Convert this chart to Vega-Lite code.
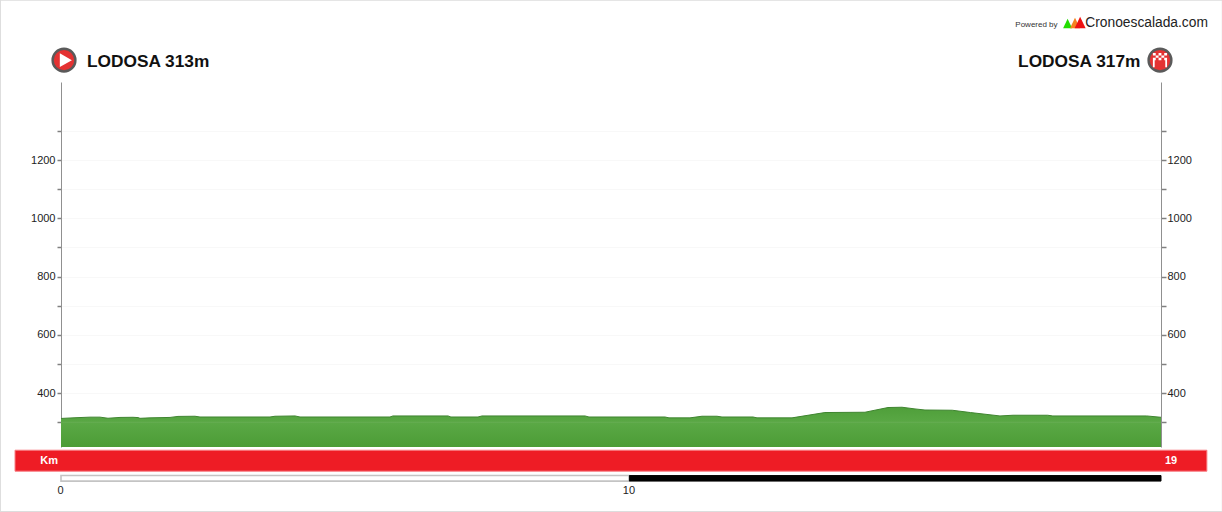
{
"$schema":"https://vega.github.io/schema/vega-lite/v6.json",
"width":1100,"height":365,"autosize":"none",
"padding":{"left":61,"top":82,"right":61,"bottom":65},
"background":"white",
"config":{"view":{"stroke":null},"font":"Liberation Sans"},
"resolve":{"axis":{"y":"independent","x":"independent"},"scale":{"color":"independent"}},
"layer":[
{"data":{"values":[{"km":-1.074,"km2":20.44,"elev":1750,"elev2":-8}]},
 "mark":{"type":"rect","fill":null,"stroke":"#dddddd","strokeWidth":2},
 "encoding":{"x":{"field":"km","type":"quantitative","scale":{"domain":[0,19.353],"nice":false,"zero":false},"axis":{"values":[0,10],"title":null,"domain":false,"ticks":false,"grid":false,"labelPadding":37,"labelFontSize":11,"labelColor":"#222222","labelOffset":-1,"format":"d","labelFlush":false}},"x2":{"field":"km2"},
  "y":{"field":"elev","type":"quantitative","scale":{"domain":[215,1468],"nice":false,"zero":false},"axis":{"orient":"left","values":[300,400,500,600,700,800,900,1000,1100,1200,1300],"title":null,"domainColor":"#909090","tickColor":"#808080","tickSize":4,"tickWidth":1.5,"labelPadding":2,"labelFontSize":11,"labelColor":"#222222","format":"d","labelExpr":"(datum.value%200==0&&datum.value>=400&&datum.value<=1200)?datum.label:''","grid":true,"gridColor":"#f8f8f8","gridWidth":1}},"y2":{"field":"elev2"}}},
{"data":{"values":[{"km":0,"elev":300}]},
 "mark":{"type":"rule","opacity":0},
 "encoding":{"y":{"field":"elev","type":"quantitative","axis":{"orient":"right","values":[300,400,500,600,700,800,900,1000,1100,1200,1300],"title":null,"domainColor":"#909090","tickColor":"#808080","tickSize":5,"tickWidth":1.5,"labelPadding":1,"labelFontSize":11,"labelColor":"#222222","format":"d","grid":false,"labelExpr":"(datum.value%200==0&&datum.value>=400&&datum.value<=1200)?datum.label:''"}}}},
{"data":{"name":"profile","values":[
{"km":0,"elev":313},{"km":0.246,"elev":315.4},{"km":0.51,"elev":317.5},{"km":0.686,"elev":317.5},{"km":0.827,"elev":313.7},{"km":1.038,"elev":316.5},{"km":1.267,"elev":317},{"km":1.355,"elev":316},{"km":1.39,"elev":313.5},{"km":1.566,"elev":315},{"km":1.918,"elev":316.5},{"km":2.058,"elev":320},{"km":2.357,"elev":320.6},{"km":2.445,"elev":318},{"km":3.677,"elev":318},{"km":3.765,"elev":320.6},{"km":4.117,"elev":321.6},{"km":4.205,"elev":318},{"km":5.788,"elev":318},{"km":5.84,"elev":321.6},{"km":6.81,"elev":321.6},{"km":6.86,"elev":318},{"km":7.336,"elev":318},{"km":7.407,"elev":321.6},{"km":9.219,"elev":321.6},{"km":9.289,"elev":318},{"km":10.626,"elev":318},{"km":10.697,"elev":315},{"km":11.066,"elev":315},{"km":11.277,"elev":320.6},{"km":11.541,"elev":320.6},{"km":11.629,"elev":318},{"km":12.175,"elev":318},{"km":12.245,"elev":315},{"km":12.861,"elev":315},{"km":13.44,"elev":333.3},{"km":14.145,"elev":334.3},{"km":14.55,"elev":350.5},{"km":14.796,"elev":351.5},{"km":15.025,"elev":345.7},{"km":15.2,"elev":342},{"km":15.68,"elev":341.2},{"km":16,"elev":333.3},{"km":16.52,"elev":321.6},{"km":16.75,"elev":324},{"km":17.36,"elev":324},{"km":17.45,"elev":321.6},{"km":19.1,"elev":321.6},{"km":19.353,"elev":317}]},
 "layer":[
 {"mark":{"type":"area","color":{"gradient":"linear","x1":0,"y1":0,"x2":0,"y2":1,"stops":[{"offset":0,"color":"#4f9f3a"},{"offset":0.4,"color":"#5aa845"},{"offset":1,"color":"#4c9c36"}]}},
  "encoding":{"x":{"field":"km","type":"quantitative","axis":null},"y":{"field":"elev","type":"quantitative","axis":null},"y2":{"datum":215}}},
 {"mark":{"type":"line","color":"#3f8530","strokeWidth":1},
  "encoding":{"x":{"field":"km","type":"quantitative","axis":null},"y":{"field":"elev","type":"quantitative","axis":null}}}
 ]},
{"data":{"values":[{"elev":300}]},
 "mark":{"type":"rule","color":"white","opacity":0.08},
 "encoding":{"y":{"field":"elev","type":"quantitative","axis":null}}},
{"data":{"values":[{"km":-0.809,"km2":20.16,"elev":204,"elev2":132}]},
 "mark":{"type":"rect","fill":"#ee1c25","stroke":"#f87c82","strokeWidth":1},
 "encoding":{"x":{"field":"km","type":"quantitative","axis":null},"x2":{"field":"km2"},"y":{"field":"elev","type":"quantitative","axis":null},"y2":{"field":"elev2"}}},
{"data":{"values":[{"km":0,"km2":10,"elev":117,"elev2":98}]},
 "mark":{"type":"rect","fill":"#ffffff","stroke":"#c4c4c4","strokeWidth":1.6},
 "encoding":{"x":{"field":"km","type":"quantitative","axis":null},"x2":{"field":"km2"},"y":{"field":"elev","type":"quantitative","axis":null},"y2":{"field":"elev2"}}},
{"data":{"values":[{"km":10,"km2":19.353,"elev":117,"elev2":98}]},
 "mark":{"type":"rect","fill":"#000000","stroke":"#000000","strokeWidth":1},
 "encoding":{"x":{"field":"km","type":"quantitative","axis":null},"x2":{"field":"km2"},"y":{"field":"elev","type":"quantitative","axis":null},"y2":{"field":"elev2"}}},
{"data":{"values":[{"km":-0.21,"elev":168,"label":"Km"},{"km":19.53,"elev":168,"label":"19"}]},
 "mark":{"type":"text","color":"white","fontWeight":"bold","fontSize":11,"align":"center","baseline":"middle"},
 "encoding":{"x":{"field":"km","type":"quantitative","axis":null},"y":{"field":"elev","type":"quantitative","axis":null},"text":{"field":"label"}}},
{"data":{"values":[{"km":0.053,"elev":1543,"who":"start"},{"km":19.335,"elev":1543,"who":"end"}]},
 "mark":{"type":"point","filled":true,"fill":"#e43232","stroke":"#5a5a5a","strokeWidth":2.4,"opacity":1,"size":520},
 "encoding":{"x":{"field":"km","type":"quantitative","axis":null},"y":{"field":"elev","type":"quantitative","axis":null}}},
{"data":{"values":[{"km":0.07,"elev":1543}]},
 "mark":{"type":"point","filled":true,"fill":"white","opacity":1,"shape":"M-0.75,-1L1,0L-0.75,1Z","size":190},
 "encoding":{"x":{"field":"km","type":"quantitative","axis":null},"y":{"field":"elev","type":"quantitative","axis":null}}},
{"data":{"values":[{"km":19.335,"elev":1543}]},
 "mark":{"type":"point","filled":true,"fill":"white","opacity":1,"shape":"M-1,-1H-0.6V-0.67H-1ZM-0.2,-1H0.2V-0.67H-0.2ZM0.6,-1H1V-0.67H0.6ZM-0.6,-0.67H-0.2V-0.33H-0.6ZM0.2,-0.67H0.6V-0.33H0.2ZM-1,-0.33H-0.6V0H-1ZM-0.2,-0.33H0.2V0H-0.2ZM0.6,-0.33H1V0H0.6ZM-1,0H-0.75V1H-1ZM0.75,0H1V1H0.75Z","size":200},
 "encoding":{"x":{"field":"km","type":"quantitative","axis":null},"y":{"field":"elev","type":"quantitative","axis":null}}},
{"data":{"values":[{"km":0.457,"elev":1521,"label":"LODOSA 313m"}]},
 "mark":{"type":"text","color":"#111111","fontWeight":"bold","fontSize":17.3,"align":"left","baseline":"alphabetic"},
 "encoding":{"x":{"field":"km","type":"quantitative","axis":null},"y":{"field":"elev","type":"quantitative","axis":null},"text":{"field":"label"}}},
{"data":{"values":[{"km":18.99,"elev":1521,"label":"LODOSA 317m"}]},
 "mark":{"type":"text","color":"#111111","fontWeight":"bold","fontSize":17.3,"align":"right","baseline":"alphabetic"},
 "encoding":{"x":{"field":"km","type":"quantitative","axis":null},"y":{"field":"elev","type":"quantitative","axis":null},"text":{"field":"label"}}},
{"data":{"values":[{"km":16.79,"elev":1657,"label":"Powered by"}]},
 "mark":{"type":"text","color":"#333333","fontSize":8,"align":"left","baseline":"alphabetic"},
 "encoding":{"x":{"field":"km","type":"quantitative","axis":null},"y":{"field":"elev","type":"quantitative","axis":null},"text":{"field":"label"}}},
{"data":{"values":[{"km":18.02,"elev":1656,"label":"Cronoescalada.com"}]},
 "mark":{"type":"text","color":"#222222","fontSize":13.8,"align":"left","baseline":"alphabetic"},
 "encoding":{"x":{"field":"km","type":"quantitative","axis":null},"y":{"field":"elev","type":"quantitative","axis":null},"text":{"field":"label"}}},
{"data":{"values":[{"km":17.71,"elev":1668}]},
 "mark":{"type":"point","filled":true,"opacity":1,"fill":"#22dd00","shape":"M0,-1.1L-1,1L1,1Z","size":81},
 "encoding":{"x":{"field":"km","type":"quantitative","axis":null},"y":{"field":"elev","type":"quantitative","axis":null}}},
{"data":{"values":[{"km":17.84,"elev":1670}]},
 "mark":{"type":"point","filled":true,"opacity":1,"fill":"#f58220","shape":"M0,-1.1L-1,1L1,1Z","size":100},
 "encoding":{"x":{"field":"km","type":"quantitative","axis":null},"y":{"field":"elev","type":"quantitative","axis":null}}},
{"data":{"values":[{"km":17.93,"elev":1671.5}]},
 "mark":{"type":"point","filled":true,"opacity":1,"fill":"#ee1111","shape":"M0,-1.1L-1,1L1,1Z","size":121},
 "encoding":{"x":{"field":"km","type":"quantitative","axis":null},"y":{"field":"elev","type":"quantitative","axis":null}}}
]
}
